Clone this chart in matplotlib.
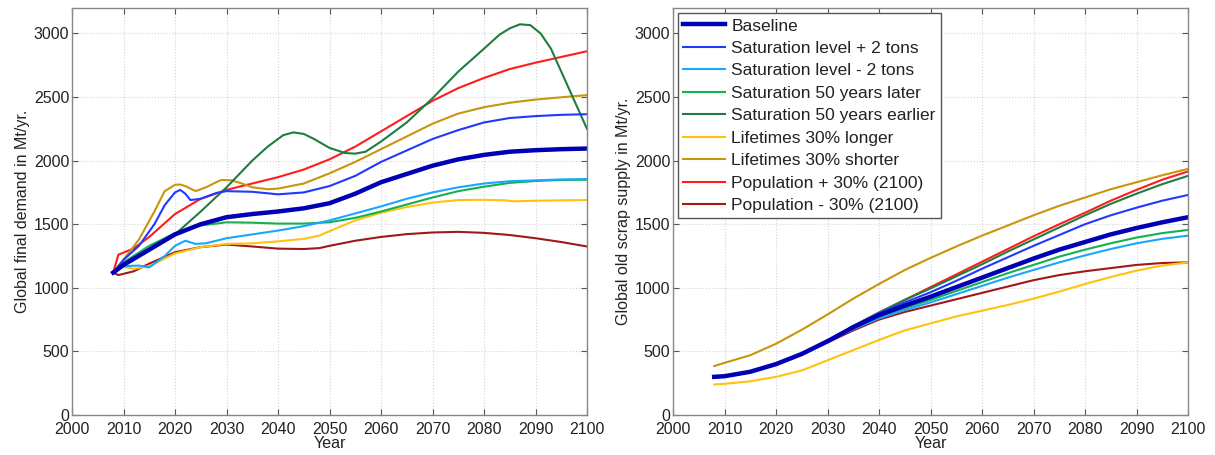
import matplotlib
matplotlib.use("Agg")
import matplotlib.pyplot as plt

plt.rcParams['font.family'] = ['Liberation Sans', 'DejaVu Sans']

labels = ["Baseline", "Saturation level + 2 tons", "Saturation level - 2 tons",
          "Saturation 50 years later", "Saturation 50 years earlier",
          "Lifetimes 30% longer", "Lifetimes 30% shorter",
          "Population + 30% (2100)", "Population - 30% (2100)"]
colors = ["#0000b4", "#2238ff", "#1aa6ff", "#16b050", "#1f7d3f",
          "#ffc20e", "#c8960a", "#ff1c1c", "#a01818"]
widths = [3.2, 1.5, 1.5, 1.5, 1.5, 1.5, 1.5, 1.5, 1.5]

# ---- Left panel: global final demand (Mt/yr) ----
d_base_x = [2008, 2010, 2015, 2020, 2025, 2030, 2035, 2040, 2045, 2050, 2055, 2060, 2065, 2070, 2075, 2080, 2085, 2090, 2095, 2100]
d_base_y = [1120, 1180, 1300, 1420, 1500, 1555, 1580, 1600, 1625, 1665, 1740, 1830, 1895, 1960, 2010, 2045, 2070, 2082, 2090, 2095]

d_sp2_x = [2008, 2010, 2013, 2016, 2018, 2020, 2021, 2022, 2023, 2025, 2028, 2030, 2035, 2040, 2045, 2050, 2055, 2060, 2065, 2070, 2075, 2080, 2085, 2090, 2095, 2100]
d_sp2_y = [1120, 1220, 1330, 1500, 1650, 1750, 1770, 1740, 1690, 1700, 1745, 1760, 1755, 1735, 1750, 1800, 1880, 1990, 2080, 2170, 2240, 2300, 2335, 2350, 2360, 2365]

d_sm2_x = [2008, 2010, 2013, 2015, 2018, 2020, 2022, 2024, 2026, 2030, 2035, 2040, 2045, 2050, 2055, 2060, 2065, 2070, 2075, 2080, 2085, 2090, 2095, 2100]
d_sm2_y = [1120, 1170, 1175, 1160, 1250, 1330, 1370, 1345, 1350, 1390, 1420, 1450, 1485, 1530, 1585, 1640, 1700, 1750, 1790, 1820, 1838, 1845, 1852, 1855]

d_sl_x = [2008, 2010, 2015, 2020, 2025, 2030, 2035, 2040, 2045, 2050, 2055, 2060, 2065, 2070, 2075, 2080, 2085, 2090, 2095, 2100]
d_sl_y = [1120, 1200, 1330, 1430, 1490, 1515, 1512, 1505, 1505, 1515, 1550, 1600, 1655, 1710, 1760, 1795, 1825, 1840, 1848, 1850]

d_se_x = [2008, 2010, 2015, 2020, 2025, 2030, 2035, 2038, 2041, 2043, 2045, 2047, 2050, 2053, 2055, 2057, 2060, 2065, 2070, 2075, 2080, 2083, 2085, 2087, 2089, 2091, 2093, 2095, 2097, 2100]
d_se_y = [1120, 1190, 1300, 1420, 1600, 1790, 2000, 2110, 2200, 2222, 2210, 2170, 2100, 2060, 2055, 2070, 2150, 2300, 2490, 2700, 2880, 2990, 3040, 3072, 3065, 3000, 2880, 2700, 2520, 2250]

d_ll_x = [2008, 2009, 2012, 2015, 2020, 2025, 2030, 2035, 2040, 2045, 2048, 2050, 2055, 2060, 2065, 2070, 2075, 2080, 2084, 2086, 2090, 2095, 2100]
d_ll_y = [1120, 1170, 1150, 1170, 1270, 1320, 1345, 1350, 1365, 1385, 1410, 1445, 1530, 1590, 1635, 1670, 1690, 1692, 1688, 1680, 1685, 1688, 1690]

d_ls_x = [2008, 2010, 2013, 2016, 2018, 2020, 2021, 2022, 2024, 2026, 2028, 2029, 2031, 2033, 2035, 2038, 2040, 2045, 2050, 2055, 2060, 2065, 2070, 2075, 2080, 2085, 2090, 2095, 2100]
d_ls_y = [1120, 1220, 1380, 1600, 1760, 1810, 1812, 1800, 1760, 1790, 1830, 1848, 1845, 1820, 1790, 1775, 1780, 1820, 1900, 1990, 2090, 2190, 2290, 2370, 2420, 2455, 2480, 2498, 2515]

d_pp_x = [2008, 2009, 2012, 2015, 2020, 2025, 2030, 2035, 2040, 2045, 2050, 2055, 2060, 2065, 2070, 2075, 2080, 2085, 2090, 2095, 2100]
d_pp_y = [1120, 1260, 1310, 1400, 1580, 1700, 1770, 1820, 1870, 1930, 2010, 2110, 2230, 2350, 2470, 2570, 2650, 2720, 2770, 2815, 2860]

d_pm_x = [2008, 2009, 2012, 2015, 2020, 2025, 2030, 2035, 2040, 2045, 2048, 2050, 2055, 2060, 2065, 2070, 2075, 2080, 2085, 2090, 2095, 2100]
d_pm_y = [1120, 1100, 1130, 1190, 1280, 1320, 1340, 1325, 1308, 1305, 1312, 1330, 1370, 1400, 1422, 1435, 1440, 1432, 1415, 1390, 1360, 1325]

# ---- Right panel: global old scrap supply (Mt/yr) ----
s_base_x = [2008, 2010, 2015, 2020, 2025, 2030, 2035, 2040, 2045, 2050, 2055, 2060, 2065, 2070, 2075, 2080, 2085, 2090, 2095, 2100]
s_base_y = [300, 305, 340, 400, 480, 580, 690, 785, 860, 930, 1005, 1080, 1155, 1230, 1300, 1360, 1420, 1470, 1515, 1555]

s_sp2_x = [2008, 2010, 2015, 2020, 2025, 2030, 2035, 2040, 2045, 2050, 2055, 2060, 2065, 2070, 2075, 2080, 2085, 2090, 2095, 2100]
s_sp2_y = [300, 305, 340, 400, 480, 580, 695, 800, 885, 965, 1055, 1150, 1240, 1330, 1415, 1500, 1570, 1630, 1685, 1730]

s_sm2_x = [2008, 2010, 2015, 2020, 2025, 2030, 2035, 2040, 2045, 2050, 2055, 2060, 2065, 2070, 2075, 2080, 2085, 2090, 2095, 2100]
s_sm2_y = [300, 305, 340, 400, 480, 575, 675, 760, 825, 885, 950, 1015, 1080, 1140, 1200, 1255, 1305, 1350, 1385, 1410]

s_sl_x = [2008, 2010, 2015, 2020, 2025, 2030, 2035, 2040, 2045, 2050, 2055, 2060, 2065, 2070, 2075, 2080, 2085, 2090, 2095, 2100]
s_sl_y = [300, 305, 340, 400, 480, 578, 680, 770, 840, 905, 975, 1045, 1115, 1180, 1245, 1300, 1350, 1395, 1430, 1455]

s_se_x = [2008, 2010, 2015, 2020, 2025, 2030, 2035, 2040, 2045, 2050, 2055, 2060, 2065, 2070, 2075, 2080, 2085, 2090, 2095, 2100]
s_se_y = [300, 305, 340, 400, 480, 580, 700, 805, 905, 995, 1090, 1185, 1285, 1380, 1475, 1570, 1660, 1740, 1815, 1880]

s_ll_x = [2008, 2010, 2015, 2020, 2025, 2030, 2035, 2040, 2045, 2050, 2055, 2060, 2065, 2070, 2075, 2080, 2085, 2090, 2095, 2100]
s_ll_y = [240, 245, 265, 300, 350, 430, 510, 590, 665, 720, 775, 820, 865, 915, 970, 1030, 1085, 1135, 1175, 1200]

s_ls_x = [2008, 2010, 2015, 2020, 2025, 2030, 2035, 2040, 2045, 2050, 2055, 2060, 2065, 2070, 2075, 2080, 2085, 2090, 2095, 2100]
s_ls_y = [385, 410, 470, 560, 670, 790, 915, 1030, 1140, 1235, 1325, 1410, 1490, 1570, 1645, 1710, 1775, 1830, 1885, 1935]

s_pp_x = [2008, 2010, 2015, 2020, 2025, 2030, 2035, 2040, 2045, 2050, 2055, 2060, 2065, 2070, 2075, 2080, 2085, 2090, 2095, 2100]
s_pp_y = [300, 305, 340, 400, 480, 580, 700, 805, 905, 1005, 1105, 1205, 1305, 1405, 1500, 1590, 1685, 1770, 1850, 1915]

s_pm_x = [2008, 2010, 2015, 2020, 2025, 2030, 2035, 2040, 2045, 2050, 2055, 2060, 2065, 2070, 2075, 2080, 2085, 2090, 2095, 2100]
s_pm_y = [300, 305, 340, 400, 475, 570, 665, 750, 810, 860, 910, 960, 1010, 1060, 1100, 1130, 1155, 1180, 1195, 1200]

demand = [(d_base_x, d_base_y), (d_sp2_x, d_sp2_y), (d_sm2_x, d_sm2_y), (d_sl_x, d_sl_y),
          (d_se_x, d_se_y), (d_ll_x, d_ll_y), (d_ls_x, d_ls_y), (d_pp_x, d_pp_y), (d_pm_x, d_pm_y)]
scrap = [(s_base_x, s_base_y), (s_sp2_x, s_sp2_y), (s_sm2_x, s_sm2_y), (s_sl_x, s_sl_y),
         (s_se_x, s_se_y), (s_ll_x, s_ll_y), (s_ls_x, s_ls_y), (s_pp_x, s_pp_y), (s_pm_x, s_pm_y)]

xticks = list(range(2000, 2101, 10))
yticks = list(range(0, 3001, 500))

fig = plt.figure(figsize=(12.15, 4.55), dpi=100)
ax1 = fig.add_axes([72/1215, 40/455, 515/1215, 407/455])
ax2 = fig.add_axes([673/1215, 40/455, 515/1215, 407/455])

def style(ax, ylabel):
    ax.set_xlim(2000, 2100)
    ax.set_ylim(0, 3200)
    ax.set_xticks(xticks)
    ax.set_yticks(yticks)
    ax.grid(True, color="#d4d4d4", linestyle=":", linewidth=0.8)
    ax.set_axisbelow(True)
    ax.tick_params(direction="in", top=True, right=True, labelsize=11.5, length=4,
                   color="#555555", labelcolor="#222222")
    ax.tick_params(axis="x", pad=5)
    ax.tick_params(axis="y", pad=2)
    for s in ax.spines.values():
        s.set_color("#888888")
        s.set_linewidth(1.0)
    ax.set_xlabel("Year", fontsize=11.5, labelpad=-1, color="#222222")
    ax.set_ylabel(ylabel, fontsize=11.5, labelpad=3, color="#222222")

order = [8, 7, 6, 5, 4, 3, 2, 1, 0]
for ax, data in ((ax1, demand), (ax2, scrap)):
    lines = {}
    for i in order:
        x, y = data[i]
        ln, = ax.plot(x, y, color=colors[i], lw=widths[i], label=labels[i], solid_joinstyle="round")
        lines[i] = ln
    if ax is ax2:
        leg = ax.legend([lines[i] for i in range(9)], labels, loc="upper left", fontsize=12.5,
                        frameon=True, fancybox=False, edgecolor="#555555", framealpha=1,
                        handlelength=2.4, handletextpad=0.35, labelspacing=0.42,
                        borderpad=0.3, borderaxespad=0.3)
        for t in leg.get_texts():
            t.set_color("#222222")

style(ax1, "Global final demand in Mt/yr.")
style(ax2, "Global old scrap supply in Mt/yr.")

fig.savefig("out.png", dpi=100)
